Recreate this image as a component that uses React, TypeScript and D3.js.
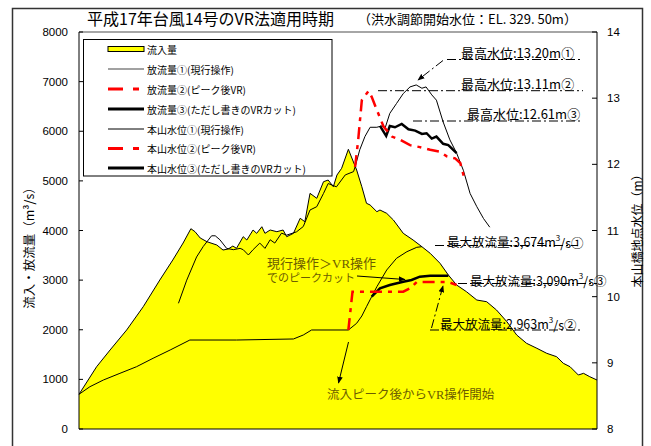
import React from "react";
import * as d3 from "d3";

const W = 651;
const H = 446;

const TITLE = "平成17年台風14号のVR法適用時期";
const SUBTITLE = "（洪水調節開始水位：EL. 329. 50m）";
const Y_LEFT_TITLE = "流入・放流量（m³/s）";
const Y_RIGHT_TITLE = "本山橋地点水位（m）";

const leftTicks = [0, 1000, 2000, 3000, 4000, 5000, 6000, 7000, 8000];
const rightTicks = [8, 9, 10, 11, 12, 13, 14];

const legendLabels = [
  "流入量",
  "放流量①(現行操作)",
  "放流量②(ピーク後VR)",
  "放流量③(ただし書きのVRカット)",
  "本山水位①(現行操作)",
  "本山水位②(ピーク後VR)",
  "本山水位③(ただし書きのVRカット)",
];

// time step (0..100), inflow m3/s
const inflow: [number, number][] = [
  [0, 699], [3.4, 1255], [6.0, 1592], [9.2, 1995], [12.4, 2464], [15.6, 3002],
  [18.1, 3405], [20.1, 3748], [21.6, 4036], [22.4, 3976], [23.4, 3849], [24.7, 3774],
  [26.6, 3708], [27.8, 3607], [28.8, 3627], [29.7, 3687], [30.4, 3641], [31.7, 3875],
  [32.4, 3808], [33.6, 4010], [34.3, 3943], [35.3, 4076], [35.9, 3943], [36.9, 4010],
  [38.2, 3976], [39.4, 4010], [40.1, 3875], [41.4, 3943], [42.7, 4246], [43.6, 4177],
  [44.6, 4749], [45.9, 4649], [47.2, 4983], [48.1, 5017], [49.1, 4882], [49.8, 5118],
  [50.7, 5253], [52.0, 5636], [53.6, 5219], [54.6, 4882], [55.5, 4548], [56.2, 4514],
  [57.5, 4379], [58.1, 4413], [59.4, 4346], [60.7, 4211], [62.6, 3943], [64.5, 3808],
  [66.2, 3673], [67.8, 3540], [69.7, 3339], [71.3, 3103], [72.9, 2902], [74.8, 2767],
  [76.8, 2599], [78.7, 2565], [80.6, 2398], [82.6, 2162], [84.5, 1894], [86.4, 1727],
  [88.4, 1626], [90.3, 1525], [92.2, 1457], [93.5, 1324], [94.8, 1255], [96.4, 1088],
  [97.4, 1122], [98.6, 1054], [100, 987],
];

// outflow ① current operation (merges with inflow after peak)
const outflow1: [number, number][] = [
  [0, 699], [2.1, 852], [4.7, 987], [7.9, 1122], [11.1, 1255], [14.3, 1425],
  [17.6, 1592], [21.4, 1793], [30.4, 1793], [41.4, 1814], [43.3, 1894], [44.9, 1995],
  [52.0, 1995], [53.6, 2130], [54.6, 2277], [55.5, 2464], [56.5, 2666], [57.5, 2867],
  [59.4, 3204], [61.3, 3440], [63.3, 3573], [65.2, 3661], [66.2, 3674],
];

// outflow ② VR after peak
const outflow2: [number, number][] = [
  [52.0, 1995], [52.8, 2767], [62.6, 2767], [64.0, 2840], [65.2, 2963], [71.3, 2963], [72.9, 2902],
];

// outflow ③ proviso VR cut
const outflow3: [number, number][] = [
  [56.5, 2666], [58.1, 2835], [60.0, 2902], [62.6, 2968], [64.2, 3002], [65.8, 3069],
  [67.8, 3090], [71.3, 3090],
];

// water level ① (m)
const level1: [number, number][] = [
  [19.2, 9.90], [20.8, 10.25], [22.7, 10.60], [24.0, 10.76], [25.6, 10.92], [26.3, 10.92],
  [27.2, 10.86], [28.5, 10.73], [29.8, 10.71], [31.1, 10.73], [31.7, 10.71], [32.7, 10.63],
  [33.6, 10.71], [34.9, 10.81], [35.9, 10.73], [36.9, 10.86], [37.8, 10.81], [39.1, 10.96],
  [40.1, 10.93], [42.0, 10.98], [43.3, 11.06], [44.6, 11.31], [45.9, 11.36], [47.2, 11.56],
  [48.1, 11.71], [49.7, 11.66], [51.4, 11.84], [53.0, 11.89], [53.3, 11.96], [54.2, 12.22],
  [55.2, 12.42], [56.2, 12.56], [57.5, 12.56], [58.4, 12.58], [59.1, 12.55], [60.0, 12.77],
  [61.3, 12.92], [62.6, 13.07], [63.9, 13.17], [65.1, 13.20], [66.2, 13.15], [67.0, 13.17],
  [68.1, 13.05], [69.0, 12.97], [70.3, 12.64], [71.6, 12.37], [72.9, 12.17], [74.2, 11.91],
  [75.5, 11.56], [76.8, 11.36], [78.1, 11.18], [79.3, 11.05],
];

// water level ② (m)
const level2: [number, number][] = [
  [53.3, 11.96], [53.9, 12.37], [54.6, 12.97], [55.9, 13.11], [56.5, 13.02], [57.5, 12.82],
  [58.8, 12.57], [60.4, 12.42], [62.0, 12.37], [63.9, 12.29], [65.8, 12.26], [67.8, 12.22],
  [69.7, 12.19], [71.0, 12.12], [72.6, 12.09], [73.6, 12.02], [74.5, 11.76],
];

// water level ③ (m)
const level3: [number, number][] = [
  [58.1, 12.58], [59.3, 12.43], [60.0, 12.58], [61.0, 12.56], [62.3, 12.61], [63.6, 12.53],
  [64.9, 12.51], [66.2, 12.46], [67.1, 12.47], [68.1, 12.39], [69.0, 12.42], [70.3, 12.31],
  [71.3, 12.29], [72.9, 12.17],
];

const maxLevelLabels = ["最高水位:13.20m①", "最高水位:13.11m②", "最高水位:12.61m③"];
const maxFlowLabels = [
  ["最大放流量:3,674m", "/s①"],
  ["最大放流量:3,090m", "/s③"],
  ["最大放流量:2,963m", "/s②"],
];
const noteCut = ["現行操作＞VR操作", "でのピークカット"];
const noteStart = "流入ピーク後からVR操作開始";

export default function App() {
  const x = d3.scaleLinear().domain([0, 100]).range([79, 597]);
  const yL = d3.scaleLinear().domain([0, 8000]).range([429, 32]);
  const yR = d3.scaleLinear().domain([8, 14]).range([429, 32]);
  const lineL = d3.line<[number, number]>().x((d) => x(d[0])).y((d) => yL(d[1]));
  const lineR = d3.line<[number, number]>().x((d) => x(d[0])).y((d) => yR(d[1]));
  const area = d3
    .area<[number, number]>()
    .x((d) => x(d[0]))
    .y0(yL(0))
    .y1((d) => yL(d[1]));

  const sans = "'Liberation Sans', Arial, 'Noto Sans CJK JP', sans-serif";
  const jp = "'Noto Sans CJK JP', sans-serif";
  const serif = "'Liberation Serif', 'DejaVu Serif', 'Noto Sans CJK JP', serif";
  const red = "#ff0000";
  const redDash = "12,6,4,6";
  const dashDot = "9,3,2,3";
  const olive = "#6b5c00";

  const legendY = [49, 69, 89, 109, 129, 148.5, 168];

  const maxLevelPos = [
    { tx: 461, ty: 52, lx1: 447, lx2: 582, ly: 59.5 },
    { tx: 461, ty: 83.5, lx1: 378, lx2: 583, ly: 90.7 },
    { tx: 467, ty: 113.5, lx1: 413, lx2: 583, ly: 121 },
  ];
  const maxFlowPos = [
    { tx: 447, ty: 241.5, lx1: 435, lx2: 578, ly: 245.5 },
    { tx: 470, ty: 280, lx1: 458, lx2: 597, ly: 283.5 },
    { tx: 440, ty: 323.5, lx1: 430, lx2: 580, ly: 330 },
  ];

  return (
    <svg
      width={W}
      height={H}
      style={{ position: "absolute", left: 0, top: 0, display: "block", background: "#fff" }}
    >
      <defs>
        <marker id="ah" viewBox="0 0 10 10" refX="9" refY="5" markerWidth="7" markerHeight="7" orient="auto">
          <path d="M0,1 L10,5 L0,9 z" fill="#000" />
        </marker>
      </defs>
      <rect x={0} y={0} width={W} height={H} fill="#fff" />
      {/* outer frame */}
      <rect x={12.5} y={8.5} width={630} height={446} fill="none" stroke="#333" strokeWidth={1.5} />

      {/* titles */}
      <text x={87} y={25} fontFamily={jp} fontSize={16} fill="#000">
        {TITLE}
      </text>
      <text x={358} y={24} fontFamily={jp} fontSize={13} fill="#000">
        {SUBTITLE}
      </text>

      {/* inflow area */}
      <path d={area(inflow) || ""} fill="#ffff00" stroke="none" />
      <path d={lineL(inflow) || ""} fill="none" stroke="#000" strokeWidth={1} />

      {/* outflows */}
      <path d={lineL(outflow1) || ""} fill="none" stroke="#000" strokeWidth={1} />
      <path d={lineL(outflow3) || ""} fill="none" stroke="#000" strokeWidth={2.5} />
      <path d={lineL(outflow2) || ""} fill="none" stroke={red} strokeWidth={2.5} strokeDasharray={redDash} />

      {/* water levels */}
      <path d={lineR(level1) || ""} fill="none" stroke="#000" strokeWidth={1} />
      <path d={lineR(level3) || ""} fill="none" stroke="#000" strokeWidth={2.5} />
      <path d={lineR(level2) || ""} fill="none" stroke={red} strokeWidth={2.5} strokeDasharray={redDash} />

      {/* plot frame */}
      <line x1={79} y1={32} x2={597} y2={32} stroke="#888" strokeWidth={1.5} />
      <line x1={79} y1={32} x2={79} y2={429} stroke="#000" strokeWidth={1} />
      <line x1={79} y1={429} x2={597} y2={429} stroke="#000" strokeWidth={1} />
      <line x1={597} y1={32} x2={597} y2={429} stroke="#000" strokeWidth={1} />

      {/* left axis */}
      {leftTicks.map((t) => (
        <g key={"l" + t}>
          <line x1={79} x2={83} y1={yL(t)} y2={yL(t)} stroke="#000" />
          <text x={68} y={yL(t)} textAnchor="end" dominantBaseline="central" fontFamily={sans} fontSize={11.5}>
            {t}
          </text>
        </g>
      ))}
      {/* right axis */}
      {rightTicks.map((t) => (
        <g key={"r" + t}>
          <line x1={592} x2={597} y1={yR(t)} y2={yR(t)} stroke="#000" />
          <text x={607} y={yR(t)} textAnchor="start" dominantBaseline="central" fontFamily={sans} fontSize={11.5}>
            {t}
          </text>
        </g>
      ))}
      <text
        transform="translate(28,245) rotate(-90)"
        textAnchor="middle"
        dominantBaseline="central"
        fontFamily={jp}
        fontSize={12.5}
      >
        {Y_LEFT_TITLE}
      </text>
      <text
        transform="translate(636,228) rotate(-90)"
        textAnchor="middle"
        dominantBaseline="central"
        fontFamily={jp}
        fontSize={12}
      >
        {Y_RIGHT_TITLE}
      </text>

      {/* legend */}
      <rect x={83.5} y={39.5} width={248.5} height={136.5} fill="#fff" stroke="#000" strokeWidth={1} />
      {legendLabels.map((lab, i) => {
        const y = legendY[i];
        let sym: React.ReactNode;
        if (i === 0) {
          sym = <rect x={108} y={y - 2.5} width={36} height={5} fill="#ffff00" stroke="#000" strokeWidth={1} />;
        } else if (i === 1) {
          sym = <line x1={108} x2={144} y1={y} y2={y} stroke="#444" strokeWidth={1.2} />;
        } else if (i === 2 || i === 5) {
          sym = <line x1={108} x2={144} y1={y} y2={y} stroke={red} strokeWidth={2.8} strokeDasharray="15,10,6,10" />;
        } else if (i === 3 || i === 6) {
          sym = <line x1={108} x2={144} y1={y} y2={y} stroke="#000" strokeWidth={2.8} />;
        } else {
          sym = <line x1={108} x2={144} y1={y} y2={y} stroke="#000" strokeWidth={1} />;
        }
        return (
          <g key={"lg" + i}>
            {sym}
            <text x={147} y={y} dominantBaseline="central" fontFamily={jp} fontSize={10}>
              {lab}
            </text>
          </g>
        );
      })}

      {/* max water level annotations */}
      {maxLevelLabels.map((lab, i) => {
        const p = maxLevelPos[i];
        return (
          <g key={"ml" + i}>
            <line x1={p.lx1} x2={p.lx2} y1={p.ly} y2={p.ly} stroke="#000" strokeWidth={1} strokeDasharray={dashDot} />
            <text x={p.tx} y={p.ty} dominantBaseline="central" fontFamily={jp} fontSize={13}>
              {lab}
            </text>
          </g>
        );
      })}
      <line x1={443} y1={60.5} x2={418} y2={80} stroke="#000" strokeWidth={1} strokeDasharray={dashDot} markerEnd="url(#ah)" />

      {/* max outflow annotations */}
      {maxFlowLabels.map((lab, i) => {
        const p = maxFlowPos[i];
        return (
          <g key={"mf" + i}>
            <line x1={p.lx1} x2={p.lx2} y1={p.ly} y2={p.ly} stroke="#000" strokeWidth={1} strokeDasharray={dashDot} />
            <text x={p.tx} y={p.ty} dominantBaseline="central" fontFamily={jp} fontSize={12.5}>
              {lab[0]}
              <tspan fontSize={8} dy={-5}>3</tspan>
              <tspan dy={5}>{lab[1]}</tspan>
            </text>
          </g>
        );
      })}
      <line x1={431.5} y1={328} x2={443} y2={286} stroke="#000" strokeWidth={1} strokeDasharray={dashDot} markerEnd="url(#ah)" />

      {/* notes */}
      <text x={267} y={263.5} dominantBaseline="central" fontFamily={serif} fontSize={13} fill={olive}>
        {noteCut[0]}
      </text>
      <text x={267} y={277.5} dominantBaseline="central" fontFamily={serif} fontSize={11} fill={olive}>
        {noteCut[1]}
      </text>
      <line x1={357} y1={276} x2={405} y2={279.5} stroke="#000" strokeWidth={1} markerEnd="url(#ah)" />

      <line x1={348.5} y1={342} x2={338.5} y2={383} stroke="#000" strokeWidth={1} markerEnd="url(#ah)" />
      <text x={327} y={395} dominantBaseline="central" fontFamily={serif} fontSize={12.5} fill={olive}>
        {noteStart}
      </text>
    </svg>
  );
}
